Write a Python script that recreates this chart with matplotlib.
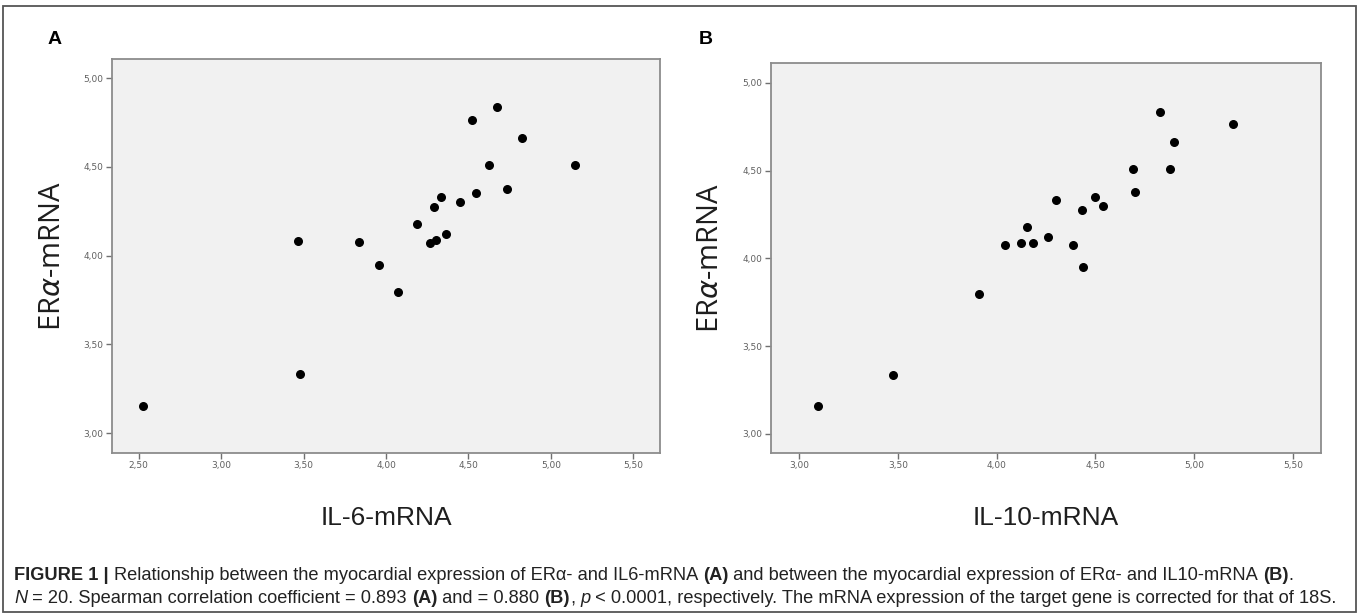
import numpy as np
import matplotlib.pyplot as plt
from matplotlib.patches import Rectangle

# data
il6 = [2.525, 3.477, 3.468, 3.838, 3.959, 4.070, 4.189, 4.268, 4.302, 4.363,
       4.293, 4.331, 4.450, 4.543, 4.523, 4.671, 4.622, 4.734, 4.822, 5.144]
era_a = [3.154, 3.333, 4.085, 4.075, 3.947, 3.793, 4.177, 4.073, 4.086, 4.120,
         4.273, 4.329, 4.301, 4.352, 4.765, 4.835, 4.511, 4.376, 4.660, 4.511]

il10 = [3.095, 3.475, 3.912, 4.041, 4.122, 4.182, 4.152, 4.261, 4.299, 4.388,
        4.438, 4.430, 4.498, 4.537, 4.688, 4.698, 4.825, 4.877, 4.897, 5.195]
era_b = [3.157, 3.335, 3.796, 4.078, 4.089, 4.085, 4.180, 4.121, 4.331, 4.076,
         3.949, 4.274, 4.352, 4.301, 4.510, 4.376, 4.836, 4.510, 4.662, 4.766]

xticks_a = [2.5, 3.0, 3.5, 4.0, 4.5, 5.0, 5.5]
xticks_b = [3.0, 3.5, 4.0, 4.5, 5.0, 5.5]
yticks = [3.0, 3.5, 4.0, 4.5, 5.0]

W, H = 1358, 615
fig = plt.figure(figsize=(W/100, H/100), dpi=100)
fig.patch.set_facecolor('white')

narrow = ['Liberation Sans Narrow', 'Arial Narrow', 'Liberation Sans', 'DejaVu Sans']


def comma(v):
    return '{:.2f}'.format(v).replace('.', ',')


def panel(box, x, y, xt, xlim, ylim, xlabel):
    l, t, r, b = box
    ax = fig.add_axes([l/W, 1-b/H, (r-l)/W, (b-t)/H])
    ax.set_facecolor('#f1f1f1')
    ax.scatter(x, y, s=30, color='black', zorder=3)
    ax.set_xlim(xlim)
    ax.set_ylim(ylim)
    ax.set_xticks(xt)
    ax.set_xticklabels([comma(v) for v in xt])
    ax.set_yticks(yticks)
    ax.set_yticklabels([comma(v) for v in yticks])
    for sp in ax.spines.values():
        sp.set_color('#8c8c8c')
        sp.set_linewidth(1.3)
    ax.tick_params(direction='out', length=4, width=1, color='#707070',
                   labelsize=6.5, labelcolor='#606060', pad=2)
    ax.set_ylabel('ER$\\alpha$-mRNA', fontsize=21, color='#1e1e1e',
                  family='Open Sans')
    ax.yaxis.set_label_coords(-0.083, 0.5)
    ax.set_xlabel(xlabel, fontsize=19, color='#1e1e1e', family=narrow,
                  labelpad=26)
    return ax


panel((112, 59, 660, 453), il6, era_a, xticks_a, (2.339, 5.661), (2.889, 5.107),
      'IL-6-mRNA')
panel((771, 63, 1321, 453), il10, era_b, xticks_b, (2.858, 5.642), (2.890, 5.114),
      'IL-10-mRNA')

fig.text(55/W, 1-40/H, 'A', fontsize=14, weight='bold', family=narrow,
         ha='center', va='center')
fig.text(706/W, 1-40/H, 'B', fontsize=14, weight='bold', family=narrow,
         ha='center', va='center')

# outer frame
fig.add_artist(Rectangle((3/W, 1-612/H), 1353/W, 606/H, transform=fig.transFigure,
                         fill=False, edgecolor='#555555', linewidth=1.3))

# caption with mixed styles
rend = fig.canvas.get_renderer()


def width_of(s, kw, size):
    t = fig.text(0, 0, s, fontsize=size, family=narrow, **kw)
    w = t.get_window_extent(renderer=rend).width
    t.remove()
    return w


def run_width(runs, size):
    total = 0
    for s, kw in runs:
        core = s.rstrip(' ')
        nsp = len(s) - len(core)
        total += width_of(core, kw, size)
        if nsp:
            total += nsp * (width_of('a a', kw, size) - width_of('aa', kw, size))
    return total


def put_runs(x, y, runs, size):
    for s, kw in runs:
        core = s.rstrip(' ')
        nsp = len(s) - len(core)
        t = fig.text(x/W, 1-y/H, core, fontsize=size, family=narrow,
                     ha='left', va='baseline', color='#222222', **kw)
        x += t.get_window_extent(renderer=rend).width
        if nsp:
            x += nsp * (width_of('a a', kw, size) - width_of('aa', kw, size))


B = dict(weight='bold')
I = dict(style='italic')
N = dict()
line1 = [('FIGURE 1 | ', B),
         ('Relationship between the myocardial expression of ER\u03b1- and IL6-mRNA ', N),
         ('(A)', B),
         (' and between the myocardial expression of ER\u03b1- and IL10-mRNA ', N),
         ('(B)', B), ('.', N)]
line2 = [('N', I), (' = 20. Spearman correlation coefficient = 0.893 ', N), ('(A)', B),
         (' and = 0.880 ', N), ('(B)', B), (', ', N), ('p', I),
         (' < 0.0001, respectively. The mRNA expression of the target gene is corrected for that of 18S.', N)]

# fit line 2 to the width it takes in the figure
cap_size = 10 * 1328 / run_width(line2, 10)
put_runs(14, 580, line1, cap_size)
put_runs(14, 603, line2, cap_size)

fig.savefig('out.png', dpi=100)
